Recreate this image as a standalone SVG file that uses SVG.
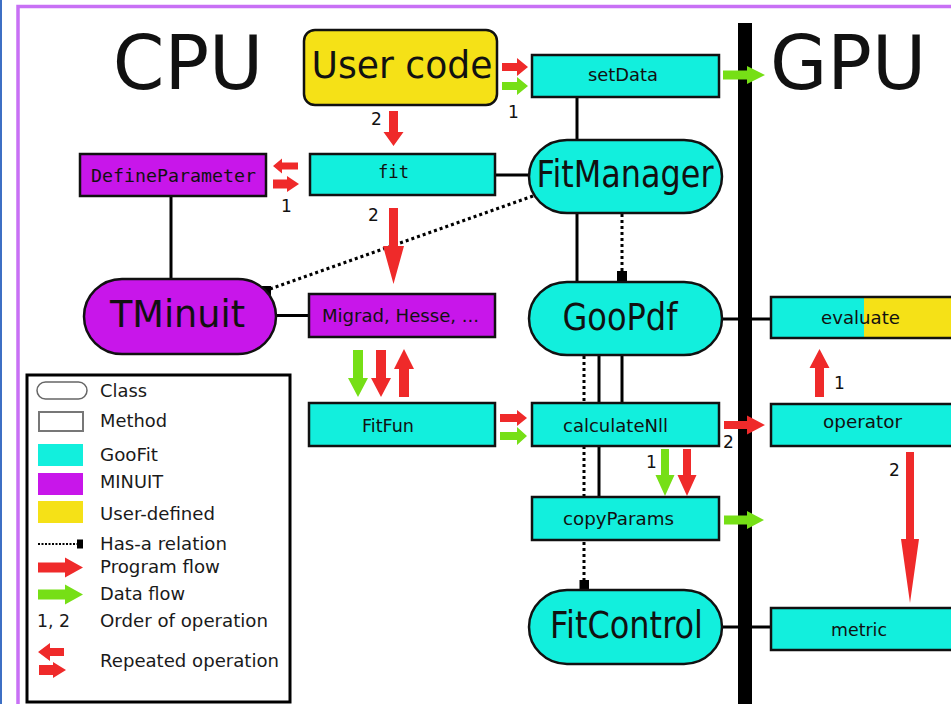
<svg xmlns="http://www.w3.org/2000/svg" width="951" height="704" viewBox="0 0 951 704">
<style>
text{font-family:"DejaVu Sans","Liberation Sans",sans-serif;fill:#111}
.mono{font-family:"DejaVu Sans Mono","Liberation Mono",monospace}
.big{font-size:37px;text-anchor:middle}
.huge{font-size:74px;text-anchor:middle}
.lbl{font-size:17.5px;text-anchor:middle}
.num{font-size:17px}
.leg{font-size:17.5px;fill:#1a1a1a}
.box{stroke:#111;stroke-width:2.5}
.cy{fill:#12efdd}
.pu{fill:#c816ea}
.ye{fill:#f5e117}
.ln{stroke:#000;stroke-width:3;fill:none}
.dot{stroke:#000;stroke-width:3;stroke-dasharray:3 3;fill:none}
.red{fill:#ef2a2a}
.grn{fill:#76df16}
</style>
<rect x="0" y="0" width="951" height="704" fill="#fff"/>
<rect x="0" y="0" width="2" height="704" fill="#3d6fc4"/>
<path d="M18,704 V6.5 H951" fill="none" stroke="#c870f5" stroke-width="3.5"/>
<text class="huge" x="188" y="89">CPU</text>
<text class="huge" x="848" y="89">GPU</text>

<g id="connectors">
<line class="ln" x1="577" y1="97" x2="577" y2="140"/>
<line class="ln" x1="495" y1="175" x2="530" y2="175"/>
<line class="ln" x1="171" y1="196" x2="171" y2="279"/>
<line class="ln" x1="276" y1="315.5" x2="309" y2="315.5"/>
<line class="ln" x1="577" y1="213" x2="577" y2="282"/>
<line class="dot" x1="622" y1="214" x2="622" y2="272"/>
<rect x="617" y="271" width="10" height="11" fill="#000"/>
<line class="dot" x1="533" y1="196" x2="270" y2="289"/>
<rect x="262" y="286" width="9" height="9" fill="#000"/>
<line class="ln" x1="599" y1="355" x2="599" y2="403"/>
<line class="ln" x1="622" y1="355" x2="622" y2="403"/>
<line class="ln" x1="599" y1="446" x2="599" y2="497"/>
<line class="dot" x1="584" y1="356" x2="584" y2="581"/>
<rect x="579.5" y="580" width="9.5" height="11" fill="#000"/>
<line class="ln" x1="722" y1="319" x2="771" y2="319"/>
<line class="ln" x1="722" y1="627" x2="771" y2="627"/>
<rect x="738" y="23" width="14" height="681" fill="#000"/>
</g>

<g id="arrows">
<polygon class="red" points="502,63 517,63 517,58 528,67 517,76 517,71 502,71"/>
<polygon class="grn" points="502,82 517,82 517,77 528,86 517,95 517,90 502,90"/>
<polygon class="grn" points="723,70.5 747,70.5 747,66 765,75 747,84 747,79.5 723,79.5"/>
<polygon class="red" points="389,111 398,111 398,132 403.5,132 393.5,146 383.5,132 389,132"/>
<polygon class="red" points="298,162.5 282,162.5 282,158.5 273,166 282,173.5 282,169.5 298,169.5"/>
<polygon class="red" points="273,179.5 287,179.5 287,176 299,184 287,192 287,188.5 273,188.5"/>
<polygon class="red" points="389,208 398,208 398,246 404,246 393.5,284 383,246 389,246"/>
<polygon class="grn" points="353,350 363,350 363,378 368,378 358,397 348,378 353,378"/>
<polygon class="red" points="376,350 386,350 386,378 391,378 381,397 371,378 376,378"/>
<polygon class="red" points="399,397 409,397 409,369 414,369 404,349 394,369 399,369"/>
<polygon class="red" points="500,414 517,414 517,410 527,418 517,426 517,422 500,422"/>
<polygon class="grn" points="500,432 517,432 517,427 527,436 517,445 517,440 500,440"/>
<polygon class="red" points="724,421 747,421 747,415.5 765,425 747,434.5 747,429 724,429"/>
<polygon class="red" points="815,397 824,397 824,368 829.5,368 819.5,349 809.5,368 815,368"/>
<polygon class="grn" points="661,449 669,449 669,475 674.5,475 665,496 655.5,475 661,475"/>
<polygon class="red" points="683,449 691,449 691,475 696.5,475 687,496 677.5,475 683,475"/>
<polygon class="grn" points="724,515.5 747,515.5 747,511 764,520 747,529 747,524.5 724,524.5"/>
<polygon class="red" points="906,452 914,452 914,539 919,539 910,603 901,539 906,539"/>
</g>

<g id="numbers">
<text class="num" x="508" y="118">1</text>
<text class="num" x="371" y="125">2</text>
<text class="num" x="281" y="212">1</text>
<text class="num" x="368" y="221">2</text>
<text class="num" x="834" y="389">1</text>
<text class="num" x="723" y="448">2</text>
<text class="num" x="646" y="468">1</text>
<text class="num" x="889" y="476">2</text>
</g>

<g id="usercode">
<rect class="box ye" x="304" y="30" width="193" height="75" rx="11"/>
<text class="big" x="402" y="78" textLength="181" lengthAdjust="spacingAndGlyphs">User code</text>
</g>
<g id="setData">
<rect class="box cy" x="532" y="55" width="187" height="42"/>
<text class="lbl" x="623" y="81" textLength="70" lengthAdjust="spacingAndGlyphs">setData</text>
</g>
<g id="DefineParameter">
<rect class="box pu" x="80" y="154" width="186" height="42"/>
<text class="lbl mono" x="173.5" y="182" textLength="165" lengthAdjust="spacingAndGlyphs">DefineParameter</text>
</g>
<g id="fit">
<rect class="box cy" x="310" y="154" width="185" height="41"/>
<text class="lbl mono" x="393.5" y="178" textLength="31" lengthAdjust="spacingAndGlyphs">fit</text>
</g>
<g id="FitManager">
<rect class="box cy" x="529" y="140" width="193" height="73" rx="38" ry="36.5"/>
<text class="big" x="625" y="187" textLength="177" lengthAdjust="spacingAndGlyphs">FitManager</text>
</g>
<g id="TMinuit">
<rect class="box pu" x="84" y="279" width="192" height="75" rx="38" ry="37.5"/>
<text class="big" x="177.5" y="327" textLength="135" lengthAdjust="spacingAndGlyphs">TMinuit</text>
</g>
<g id="Migrad">
<rect class="box pu" x="309" y="294" width="186" height="43"/>
<text class="lbl" x="400.5" y="322" textLength="157" lengthAdjust="spacingAndGlyphs">Migrad, Hesse, ...</text>
</g>
<g id="GooPdf">
<rect class="box cy" x="529" y="282" width="193" height="73" rx="38" ry="36.5"/>
<text class="big" x="620" y="330" textLength="115" lengthAdjust="spacingAndGlyphs">GooPdf</text>
</g>
<g id="FitFun">
<rect class="box cy" x="309" y="403" width="186" height="43"/>
<text class="lbl" x="388" y="432" textLength="52" lengthAdjust="spacingAndGlyphs">FitFun</text>
</g>
<g id="calculateNll">
<rect class="box cy" x="532" y="403" width="187" height="43"/>
<text class="lbl" x="615.5" y="432" textLength="105" lengthAdjust="spacingAndGlyphs">calculateNll</text>
</g>
<g id="copyParams">
<rect class="box cy" x="532" y="497" width="187" height="43"/>
<text class="lbl" x="618.5" y="525" textLength="111" lengthAdjust="spacingAndGlyphs">copyParams</text>
</g>
<g id="FitControl">
<rect class="box cy" x="529" y="590" width="193" height="74" rx="38" ry="37"/>
<text class="big" x="626.5" y="638" textLength="153" lengthAdjust="spacingAndGlyphs">FitControl</text>
</g>
<g id="evaluate">
<rect class="cy" x="771" y="297" width="93" height="41"/>
<rect class="ye" x="864" y="297" width="100" height="41"/>
<rect x="771" y="297" width="200" height="41" fill="none" stroke="#111" stroke-width="2.5"/>
<text class="lbl" x="860.5" y="324" textLength="79" lengthAdjust="spacingAndGlyphs">evaluate</text>
</g>
<g id="operator">
<rect class="box cy" x="771" y="404" width="200" height="42"/>
<text class="lbl" x="862.5" y="428" textLength="79" lengthAdjust="spacingAndGlyphs">operator</text>
</g>
<g id="metric">
<rect class="box cy" x="771" y="608" width="200" height="42"/>
<text class="lbl" x="859" y="636" textLength="56" lengthAdjust="spacingAndGlyphs">metric</text>
</g>

<g id="legend">
<rect x="27" y="375" width="263" height="327" fill="#fff" stroke="#000" stroke-width="3"/>
<rect x="37" y="382" width="50" height="17" rx="8.5" fill="#fff" stroke="#666" stroke-width="1.5"/>
<text class="leg" x="100" y="397" textLength="47" lengthAdjust="spacingAndGlyphs">Class</text>
<rect x="39" y="412" width="44" height="19" fill="#fff" stroke="#777" stroke-width="2"/>
<text class="leg" x="100" y="427" textLength="67" lengthAdjust="spacingAndGlyphs">Method</text>
<rect class="cy" x="38" y="444" width="45" height="22"/>
<text class="leg" x="100" y="461" textLength="58" lengthAdjust="spacingAndGlyphs">GooFit</text>
<rect class="pu" x="38" y="473" width="45" height="22"/>
<text class="leg" x="100" y="488" textLength="63" lengthAdjust="spacingAndGlyphs">MINUIT</text>
<rect class="ye" x="38" y="501" width="45" height="22"/>
<text class="leg" x="100" y="520" textLength="115" lengthAdjust="spacingAndGlyphs">User-defined</text>
<line x1="38" y1="544" x2="77" y2="544" stroke="#000" stroke-width="2" stroke-dasharray="2 1.5"/>
<rect x="77" y="539.5" width="6" height="9" fill="#000"/>
<text class="leg" x="100" y="550" textLength="127" lengthAdjust="spacingAndGlyphs">Has-a relation</text>
<polygon class="red" points="38,562.5 65,562.5 65,557.5 83,567.5 65,577.5 65,572.5 38,572.5"/>
<text class="leg" x="100" y="573" textLength="120" lengthAdjust="spacingAndGlyphs">Program flow</text>
<polygon class="grn" points="38,589.5 65,589.5 65,584.5 83,594.5 65,604.5 65,599.5 38,599.5"/>
<text class="leg" x="100" y="600" textLength="85" lengthAdjust="spacingAndGlyphs">Data flow</text>
<text class="leg" x="37" y="627" textLength="33" lengthAdjust="spacingAndGlyphs">1, 2</text>
<text class="leg" x="100" y="627" textLength="168" lengthAdjust="spacingAndGlyphs">Order of operation</text>
<polygon class="red" points="64,648 50,648 50,643 38,652 50,661 50,656 64,656"/>
<polygon class="red" points="39,665 53,665 53,662 66,670 53,678 53,675 39,675"/>
<text class="leg" x="100" y="667" textLength="179" lengthAdjust="spacingAndGlyphs">Repeated operation</text>
</g>
</svg>
